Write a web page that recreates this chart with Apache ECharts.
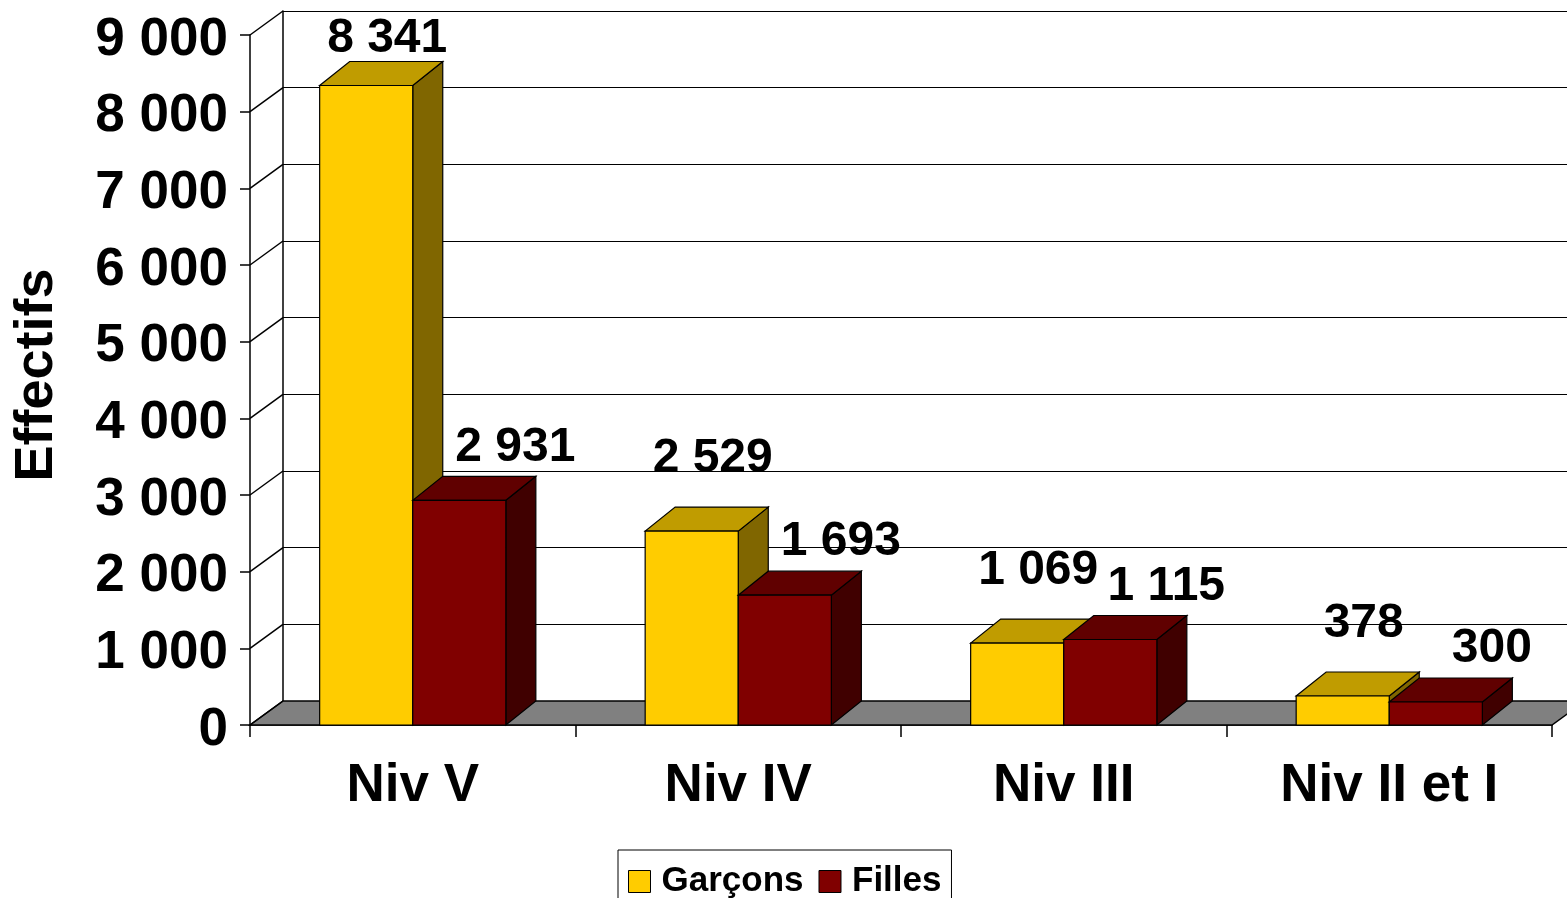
<!DOCTYPE html>
<html>
<head>
<meta charset="utf-8">
<title>Effectifs</title>
<script src="https://cdn.jsdelivr.net/npm/echarts@6/dist/echarts.min.js"></script>
<style>
    html, body { margin: 0; padding: 0; background: #fff; }
    #chart { width: 1567px; height: 898px; }
</style>
</head>
<body>
<div id="chart"></div>
<script>
// données
var categories = ['Niv V', 'Niv IV', 'Niv III', 'Niv II et I'];
var garcons = [8341, 2529, 1069, 378];
var filles = [2931, 1693, 1115, 300];
var yTicks = [0, 1000, 2000, 3000, 4000, 5000, 6000, 7000, 8000, 9000];

var FONT = '"Liberation Sans", Arial, sans-serif';
// profondeur du mur / des barres
var DX = 33, DY = 24;
var BDX = 30, BDY = 24;

function fmt(v) {
    return String(v).replace(/\B(?=(\d{3})+(?!\d))/g, ' ');
}

// sol gris + diagonales du mur gauche
function renderFrame(params, api) {
    var cs = params.coordSys;
    var y = api.coord([0, api.value(1)])[1];
    var children = [];
    if (api.value(1) === 0) {
        children.push({
            type: 'polygon',
            shape: { points: [[cs.x, y], [cs.x + cs.width, y], [cs.x + cs.width + DX, y - DY], [cs.x + DX, y - DY]] },
            style: { fill: '#808080', stroke: '#000', lineWidth: 1.5 }
        });
    }
    children.push({
        type: 'line',
        shape: { x1: cs.x, y1: y, x2: cs.x + DX, y2: y - DY },
        style: { stroke: '#000', lineWidth: 1.5 }
    });
    return { type: 'group', children: children };
}

// barre 3D (face, dessus, côté) + étiquette
function barItem(s, face, top, side, ldx, ldy) {
    return function(params, api) {
        var i = api.value(0), v = api.value(1);
        var c = api.coord([i, v]);
        var b = api.coord([i, 0]);
        var w = api.size([1, 0])[0] * 0.286;
        var x0 = c[0] - w + s * w;
        var y1 = c[1], y0 = b[1];
        var ly = Math.max(y1 - ldy, 39);
        var line = { stroke: '#000', lineWidth: 1.2 };
        return {
            type: 'group',
            children: [{
                type: 'polygon',
                shape: { points: [[x0 + w, y1], [x0 + w + BDX, y1 - BDY], [x0 + w + BDX, y0 - BDY], [x0 + w, y0]] },
                style: Object.assign({ fill: side }, line)
            }, {
                type: 'polygon',
                shape: { points: [[x0, y1], [x0 + w, y1], [x0 + w + BDX, y1 - BDY], [x0 + BDX, y1 - BDY]] },
                style: Object.assign({ fill: top }, line)
            }, {
                type: 'rect',
                shape: { x: x0, y: y1, width: w, height: y0 - y1 },
                style: Object.assign({ fill: face }, line)
            }, {
                type: 'text',
                style: {
                    text: fmt(v),
                    x: x0 + w / 2 + ldx,
                    y: ly,
                    fill: '#000',
                    font: 'bold 48px ' + FONT,
                    textAlign: 'center',
                    textVerticalAlign: 'middle',
                    align: 'center',
                    verticalAlign: 'middle'
                }
            }]
        };
    };
}

var myChart = echarts.init(document.getElementById('chart'));
var option = {
    animation: false,
    backgroundColor: '#fff',
    grid: [
        { left: 250, right: 15, top: 35, bottom: 173 },
        { left: 283, right: 0, top: 11, bottom: 197 }
    ],
    xAxis: [{
        type: 'category',
        gridIndex: 0,
        data: categories,
        axisLine: { lineStyle: { color: '#000', width: 1.5 } },
        axisTick: { show: true, length: 12, interval: 0, lineStyle: { color: '#000', width: 1.5 } },
        axisLabel: { margin: 35, color: '#000', fontSize: 53, fontWeight: 'bold', fontFamily: FONT, interval: 0 }
    }, {
        type: 'category',
        gridIndex: 1,
        data: categories,
        show: false
    }],
    yAxis: [{
        type: 'value',
        gridIndex: 0,
        min: 0,
        max: 9000,
        interval: 1000,
        splitLine: { show: false },
        axisLine: { show: true, lineStyle: { color: '#000', width: 1.5 } },
        axisTick: { show: true, length: 10, lineStyle: { color: '#000', width: 1.5 } },
        axisLabel: {
            margin: 22,
            formatter: function(v) { return '{t|' + fmt(v) + '}'; },
            rich: {
                t: { padding: [10, 0, 0, 0], color: '#000', fontSize: 53, fontWeight: 'bold', fontFamily: FONT }
            }
        }
    }, {
        type: 'value',
        gridIndex: 1,
        min: 0,
        max: 9000,
        interval: 1000,
        axisLabel: { show: false },
        axisTick: { show: false },
        axisLine: { show: true, lineStyle: { color: '#000', width: 1.5 } },
        splitLine: { show: true, lineStyle: { color: '#000', width: 1 } }
    }],
    legend: {
        data: ['Garçons', 'Filles'],
        left: 618,
        top: 850,
        padding: [14, 10, 8, 10],
        icon: 'rect',
        itemWidth: 22,
        itemHeight: 22,
        itemGap: 15,
        borderColor: '#000',
        borderWidth: 1,
        itemStyle: { borderColor: '#000', borderWidth: 1 },
        textStyle: { color: '#000', fontSize: 35, fontWeight: 'bold', fontFamily: FONT, padding: [0, 0, 0, 6] }
    },
    graphic: [{
        type: 'text',
        x: 37,
        y: 375,
        rotation: Math.PI / 2,
        style: {
            text: 'Effectifs',
            fill: '#000',
            font: 'bold 54px ' + FONT,
            textAlign: 'center',
            textVerticalAlign: 'middle',
            align: 'center',
            verticalAlign: 'middle'
        }
    }],
    series: [{
        type: 'custom',
        name: 'cadre',
        z: 1,
        xAxisIndex: 0,
        yAxisIndex: 0,
        renderItem: renderFrame,
        data: yTicks.map(function(v) { return [0, v]; }),
        silent: true
    }, {
        type: 'custom',
        name: 'Garçons',
        z: 2,
        xAxisIndex: 0,
        yAxisIndex: 0,
        itemStyle: { color: '#FFCC00' },
        renderItem: barItem(0, '#FFCC00', '#C09C00', '#806600', 21, 72),
        data: garcons.map(function(v, i) { return [i, v]; })
    }, {
        type: 'custom',
        name: 'Filles',
        z: 3,
        xAxisIndex: 0,
        yAxisIndex: 0,
        itemStyle: { color: '#800000' },
        renderItem: barItem(1, '#800000', '#600000', '#400000', 56, 53),
        data: filles.map(function(v, i) { return [i, v]; })
    }]
};
myChart.setOption(option);
</script>
</body>
</html>
